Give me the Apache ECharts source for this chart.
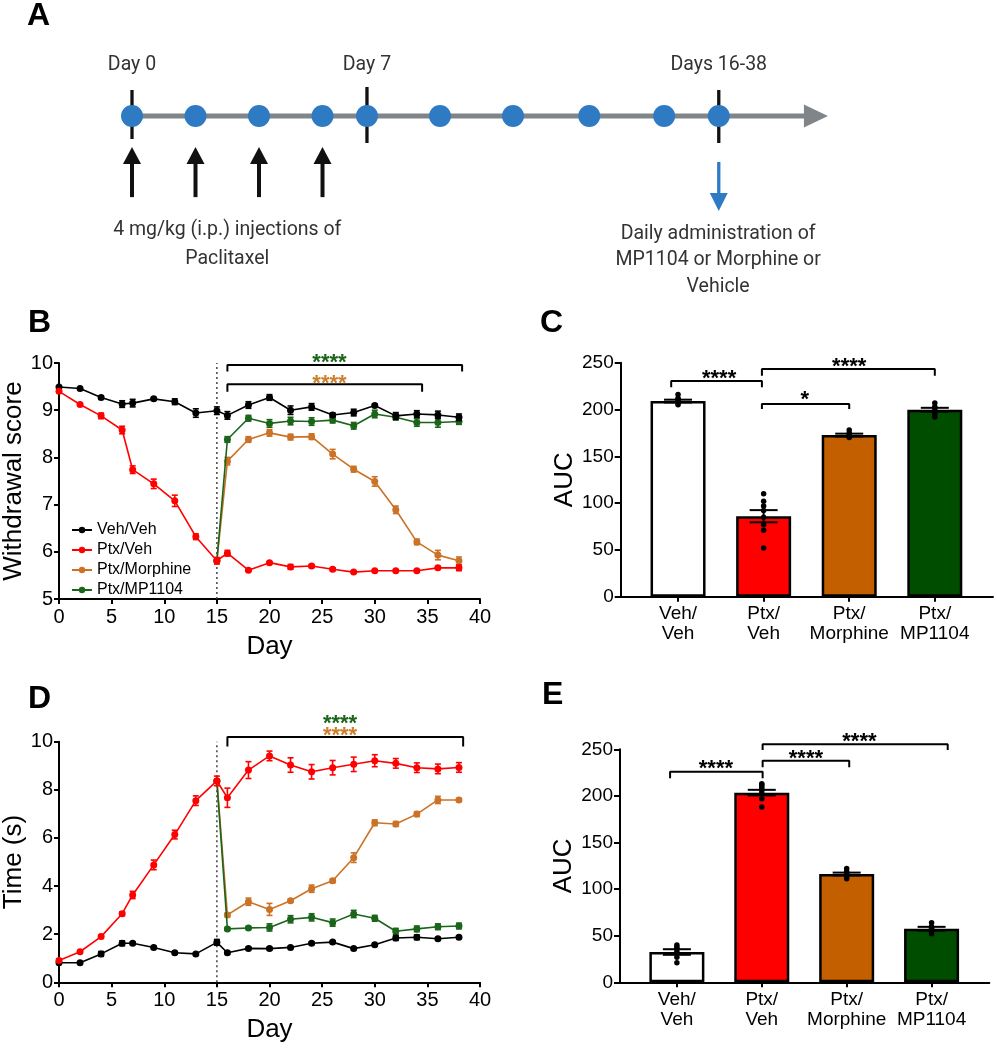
<!DOCTYPE html>
<html><head><meta charset="utf-8">
<script src="https://cdn.jsdelivr.net/npm/echarts@6/dist/echarts.min.js"></script>
<style>html,body{margin:0;padding:0;background:#fff}#c{width:997px;height:1050px}</style>
</head><body><div id="c"></div>
<script>
// ================= DATA =================
// Panel A: schematic timeline (positions along the timeline, schematic units)
const timelineDots   = [0, 1, 2, 3, 3.7, 4.85, 6.0, 7.2, 8.38, 9.24];
const injectionDots  = [0, 1, 2, 3];
const milestoneDots  = [0, 3.7, 9.24];
const milestoneLabels = ['Day 0', 'Day 7', 'Days 16-38'];
const treatmentDot   = 9.24;
const timelineEnd    = 10.96;
const injectionText  = '4 mg/kg (i.p.) injections of\nPaclitaxel';
const treatmentText  = 'Daily administration of\nMP1104 or Morphine or\nVehicle';

// Panels B & D: days
const daysAll   = [0,2,4,6,7,9,11,13,15,16,18,20,22,24,26,28,30,32,34,36,38];
const daysTreat = [15,16,18,20,22,24,26,28,30,32,34,36,38];
const groupNames = ['Veh/Veh','Ptx/Veh','Ptx/Morphine','Ptx/MP1104'];

// Panel B: withdrawal score (mean, SEM)
const vehVehB    = [9.49,9.46,9.27,9.13,9.15,9.24,9.18,8.94,8.99,8.89,9.11,9.27,9.00,9.07,8.90,8.95,9.10,8.88,8.92,8.90,8.85];
const vehVehBErr = [0.02,0.02,0.03,0.07,0.08,0.03,0.06,0.09,0.08,0.08,0.07,0.06,0.09,0.07,0.04,0.07,0.03,0.07,0.07,0.08,0.07];
const ptxVehB    = [9.40,9.12,8.88,8.58,7.74,7.44,7.08,6.32,5.81,5.97,5.61,5.77,5.68,5.70,5.63,5.57,5.60,5.60,5.60,5.66,5.66];
const ptxVehBErr = [0.02,0.02,0.06,0.08,0.08,0.10,0.12,0.06,0.07,0.06,0.02,0.02,0.05,0.03,0.03,0.02,0.02,0.02,0.02,0.03,0.06];
const ptxMorB    = [5.81,7.92,8.38,8.52,8.43,8.44,8.07,7.75,7.49,6.89,6.21,5.93,5.81];
const ptxMorBErr = [0,0.08,0.06,0.07,0.06,0.06,0.10,0.06,0.10,0.08,0.06,0.10,0.08];
const ptxMpB     = [5.81,8.38,8.83,8.72,8.77,8.76,8.79,8.67,8.92,8.85,8.74,8.74,8.76];
const ptxMpBErr  = [0,0.06,0.06,0.08,0.08,0.08,0.06,0.07,0.08,0.06,0.08,0.10,0.06];

// Panel D: time (s) (mean, SEM)
const vehVehD    = [0.81,0.81,1.18,1.62,1.62,1.45,1.23,1.18,1.66,1.23,1.41,1.40,1.45,1.62,1.67,1.40,1.56,1.84,1.87,1.81,1.87];
const vehVehDErr = [0.03,0.03,0.10,0.10,0.05,0.05,0.05,0.05,0.12,0.05,0.05,0.05,0.04,0.05,0.05,0.05,0.05,0.10,0.10,0.05,0.05];
const ptxVehD    = [0.91,1.27,1.90,2.85,3.63,4.88,6.14,7.55,8.37,7.67,8.82,9.41,9.03,8.75,8.92,9.06,9.21,9.10,8.92,8.87,8.93];
const ptxVehDErr = [0.05,0.05,0.07,0.08,0.15,0.20,0.18,0.20,0.20,0.40,0.35,0.20,0.30,0.30,0.30,0.30,0.25,0.20,0.20,0.20,0.20];
const ptxMorD    = [8.37,2.80,3.35,3.03,3.39,3.89,4.22,5.18,6.63,6.58,6.99,7.58,7.58];
const ptxMorDErr = [0,0.08,0.15,0.25,0.06,0.15,0.08,0.20,0.12,0.10,0.10,0.15,0.06];
const ptxMpD     = [8.37,2.22,2.26,2.28,2.62,2.70,2.48,2.84,2.66,2.12,2.22,2.31,2.34];
const ptxMpDErr  = [0,0.06,0.06,0.15,0.15,0.15,0.15,0.15,0.12,0.12,0.12,0.12,0.12];

// Panels C & E: AUC
const barLabels = ['Veh/\nVeh','Ptx/\nVeh','Ptx/\nMorphine','Ptx/\nMP1104'];
const aucC    = [209, 86, 172.7, 199.8];
const aucCErr = [1.5, 6.5, 1.5, 2];
const dotsC   = [[205,207,209,211,212,216],[110,102,97,92,85,77,71,52],[170,171,172,173,175,178],[192,195,198,201,203,207]];
const aucE    = [32.5, 203.5, 116.2, 57.5];
const aucEErr = [3, 3, 1.5, 2];
const dotsE   = [[21,27,33,36,38,40],[188,197,203,206,208,210,212,213],[111,113,115,117,119,122],[52,55,57,58,60,64]];

// Significance annotations
const sigB = [
  {x1:16, x2:38.3, y:9.96, drop:0.14, text:'****', tx:25.7, ty:10.13, c:'g'},
  {x1:16, x2:34.5, y:9.55, drop:0.16, text:'****', tx:25.7, ty:9.68, c:'o'}
];
const sigD = [
  {x1:16, x2:38.4, y:10.2, drop:0.4, text:'****', tx:26.7, ty:11.0, c:'g'},
  {x1:16, x2:38.4, y:10.2, drop:0.4, text:'****', tx:26.7, ty:10.47, c:'o'}
];
const sigC = [
  {x1:-0.08, x2:0.98, y:230.4, drop:6.7, text:'****', tx:0.48, ty:239.3},
  {x1:0.98, x2:2.0, y:206, drop:5.5, text:'*', tx:1.48, ty:216.6},
  {x1:0.98, x2:3.0, y:243.3, drop:7.3, text:'****', tx:2.0, ty:252}
];
const sigE = [
  {x1:-0.08, x2:1.01, y:226, drop:7, text:'****', tx:0.46, ty:235},
  {x1:1.01, x2:2.03, y:237.8, drop:7, text:'****', tx:1.52, ty:246.4},
  {x1:1.01, x2:3.19, y:255.4, drop:6.2, text:'****', tx:2.15, ty:264.3}
];

// ================= STYLE =================
const FONT = 'Liberation Sans, Arial, sans-serif';
const lineColors = ['#000000', '#FF0000', '#CB7226', '#1B651B'];
const barColors  = ['#FFFFFF', '#FF0000', '#C45F00', '#004D00'];
const starColors = {g:'#1B651B', o:'#CC7F2C'};

const chart = echarts.init(document.getElementById('c'), null, {renderer:'canvas'});

function errSeries(xi, xs, vals, errs, color, capW, lw, z) {
  return {
    type:'custom', xAxisIndex:xi, yAxisIndex:xi, silent:true, z:z||3, clip:false,
    data: xs.map((x,i)=>[x, vals[i], errs[i]]).filter(d=>d[2]>0),
    renderItem:(params, api)=>{
      const x=api.value(0), y=api.value(1), e=api.value(2);
      const lo=api.coord([x,y-e]), hi=api.coord([x,y+e]);
      const h=capW/2, st={stroke:color, lineWidth:lw};
      return {type:'group', children:[
        {type:'line', shape:{x1:lo[0],y1:lo[1],x2:hi[0],y2:hi[1]}, style:st},
        {type:'line', shape:{x1:lo[0]-h,y1:lo[1],x2:lo[0]+h,y2:lo[1]}, style:st},
        {type:'line', shape:{x1:hi[0]-h,y1:hi[1],x2:hi[0]+h,y2:hi[1]}, style:st}
      ]};
    }
  };
}
function lineSeries(xi, name, xs, vals, color, z) {
  return {type:'line', name:name, xAxisIndex:xi, yAxisIndex:xi, z:z,
    data: xs.map((x,i)=>[x, vals[i]]), symbol:'circle', symbolSize:7,
    lineStyle:{color:color, width:1.6}, itemStyle:{color:color, opacity:1}, silent:true};
}
function bracket(xi, b) {
  return {type:'line', xAxisIndex:xi, yAxisIndex:xi, silent:true, clip:false, symbol:'none', z:6,
    data:[[b.x1,b.y-b.drop],[b.x1,b.y],[b.x2,b.y],[b.x2,b.y-b.drop]],
    lineStyle:{color:'#000', width:2}};
}
function textSeries(xi, items, z) {
  return {type:'scatter', xAxisIndex:xi, yAxisIndex:xi, silent:true, clip:false, z:z||7,
    symbolSize:1, itemStyle:{color:'rgba(0,0,0,0)', opacity:1},
    data: items.map(it=>({value:[it.x,it.y], label:Object.assign({show:true, position:'inside', formatter:it.text, opacity:1}, it.style)}))};
}
function starItems(list, fs) {
  return list.map(b=>({x:b.tx, y:b.ty, text:b.text,
    style:{color: b.c ? starColors[b.c] : '#000', fontSize:fs, fontWeight:'bold', fontFamily:FONT, offset:[0,6]}}));
}
function dotSeries(xi, arrays, size, color, symbol, z) {
  return {type:'scatter', xAxisIndex:xi, yAxisIndex:xi, silent:true, clip:false, z:z||5, symbol:symbol||'circle',
    symbolSize:size, itemStyle:{color:color, opacity:1}, data: arrays};
}

const axisLineStyle = {show:true, onZero:false, lineStyle:{color:'#000', width:2}};
const tickStyle = {show:true, inside:false, length:5, lineStyle:{color:'#000', width:2}};

function lineXAxis(gi) {
  return {type:'value', gridIndex:gi, min:0, max:40, interval:5, axisLine:axisLineStyle, axisTick:tickStyle,
    axisLabel:{fontSize:20, color:'#000', margin:8, fontFamily:FONT}, splitLine:{show:false},
    name:'Day', nameLocation:'middle', nameGap:35, nameTextStyle:{fontSize:26, color:'#000', fontFamily:FONT}};
}
function lineYAxis(gi, min, max, interval, name, gap) {
  return {type:'value', gridIndex:gi, min:min, max:max, interval:interval, axisLine:axisLineStyle, axisTick:tickStyle,
    axisLabel:{fontSize:20, color:'#000', margin:6, fontFamily:FONT}, splitLine:{show:false},
    name:name, nameLocation:'middle', nameRotate:90, nameGap:gap, nameTextStyle:{fontSize:26, color:'#000', fontFamily:FONT}};
}
function barXAxis(gi) {
  return {type:'value', gridIndex:gi, min:-0.67, max:3.68, axisLine:axisLineStyle,
    axisTick:Object.assign({}, tickStyle, {customValues:[0,1,2,3]}),
    axisLabel:{customValues:[0,1,2,3], formatter:(v)=>barLabels[Math.round(v)], fontSize:19, lineHeight:20, color:'#000', margin:7, fontFamily:FONT},
    splitLine:{show:false}};
}
function barYAxis(gi, gap) {
  return {type:'value', gridIndex:gi, min:0, max:250, interval:50, axisLine:axisLineStyle,
    axisTick:Object.assign({}, tickStyle, {length:6}),
    axisLabel:{fontSize:19, color:'#000', margin:7, fontFamily:FONT}, splitLine:{show:false},
    name:'AUC', nameLocation:'middle', nameRotate:90, nameGap:gap, nameTextStyle:{fontSize:26, color:'#000', fontFamily:FONT}};
}

const series = [];
// ---------- Panel A ----------
const gray = '#808589', blue = '#2E7BC4';
series.push({type:'line', xAxisIndex:0, yAxisIndex:0, silent:true, symbol:'none', z:2,
  data:[[0,0],[timelineEnd-0.3,0]], lineStyle:{color:gray, width:5}});
series.push({type:'scatter', xAxisIndex:0, yAxisIndex:0, silent:true, z:3, symbol:'triangle',
  symbolSize:[23,24], symbolRotate:-90, itemStyle:{color:gray, opacity:1}, data:[[timelineEnd-0.19,0]]});
milestoneDots.forEach((m,i)=>{
  series.push({type:'line', xAxisIndex:0, yAxisIndex:0, silent:true, symbol:'none', z:2,
    data:[[m, i===1?1.12:1.0],[m, i===0?-0.88:-1.04]], lineStyle:{color:'#111', width:3.3}});
});
series.push(dotSeries(0, timelineDots.map(d=>[d,0]), 22, blue, 'circle', 4));
injectionDots.forEach(d=>{
  series.push({type:'line', xAxisIndex:0, yAxisIndex:0, silent:true, symbol:'none', z:2,
    data:[[d,-3.12],[d,-1.6]], lineStyle:{color:'#111', width:4}});
});
series.push({type:'scatter', xAxisIndex:0, yAxisIndex:0, silent:true, z:3, symbol:'triangle',
  symbolSize:[18,17], itemStyle:{color:'#111', opacity:1}, data: injectionDots.map(d=>[d,-1.52])});
series.push({type:'line', xAxisIndex:0, yAxisIndex:0, silent:true, symbol:'none', z:2,
  data:[[treatmentDot,-1.77],[treatmentDot,-3.2]], lineStyle:{color:blue, width:3.3}});
series.push({type:'scatter', xAxisIndex:0, yAxisIndex:0, silent:true, z:3, symbol:'triangle',
  symbolSize:[18,18], symbolRotate:180, itemStyle:{color:blue, opacity:1}, data:[[treatmentDot,-3.31]]});
const aText = {fontFamily:'Roboto', fontSize:19.5, color:'#333333'};
series.push(textSeries(0, [
  ...milestoneDots.map((m,i)=>({x:m, y:1.95, text:milestoneLabels[i], style:aText})),
  {x:1.5, y:-4.93, text:injectionText, style:Object.assign({lineHeight:29, align:'center'}, aText)},
  {x:treatmentDot-0.01, y:-5.56, text:treatmentText, style:Object.assign({lineHeight:26.5, align:'center'}, aText)}
]));

// ---------- Panel B ----------
series.push({type:'line', xAxisIndex:1, yAxisIndex:1, silent:true, symbol:'none', z:1,
  data:[[15,5],[15,10]], lineStyle:{color:'#444', width:1.5, type:[2,3]}});
series.push(lineSeries(1, groupNames[2], daysTreat, ptxMorB, lineColors[2], 2));
series.push(errSeries(1, daysTreat, ptxMorB, ptxMorBErr, lineColors[2], 6, 1.6, 2));
series.push(lineSeries(1, groupNames[3], daysTreat, ptxMpB, lineColors[3], 3));
series.push(errSeries(1, daysTreat, ptxMpB, ptxMpBErr, lineColors[3], 6, 1.6, 3));
series.push(lineSeries(1, groupNames[0], daysAll, vehVehB, lineColors[0], 4));
series.push(errSeries(1, daysAll, vehVehB, vehVehBErr, lineColors[0], 6, 1.6, 4));
series.push(lineSeries(1, groupNames[1], daysAll, ptxVehB, lineColors[1], 5));
series.push(errSeries(1, daysAll, ptxVehB, ptxVehBErr, lineColors[1], 6, 1.6, 5));
sigB.forEach(b=>series.push(bracket(1,b)));
series.push(textSeries(1, starItems(sigB, 22)));

// ---------- Panel C ----------
series.push({type:'bar', xAxisIndex:2, yAxisIndex:2, silent:true, barWidth:55, z:2,
  data: aucC.map((v,i)=>({value:[i,v], itemStyle:{color:barColors[i]}})),
  itemStyle:{borderColor:'#000', borderWidth:2.5, opacity:1}});
series.push(errSeries(2, [0,1,2,3], aucC, aucCErr, '#000', 28, 2, 4));
series.push(dotSeries(2, dotsC.flatMap((arr,i)=>arr.map(v=>[i,v])), 5.5, '#000', 'circle', 5));
sigC.forEach(b=>series.push(bracket(2,b)));
series.push(textSeries(2, starItems(sigC, 22)));

// ---------- Panel D ----------
series.push({type:'line', xAxisIndex:3, yAxisIndex:3, silent:true, symbol:'none', z:1,
  data:[[15,0],[15,10]], lineStyle:{color:'#444', width:1.5, type:[2,3]}});
series.push(lineSeries(3, groupNames[2], daysTreat, ptxMorD, lineColors[2], 2));
series.push(errSeries(3, daysTreat, ptxMorD, ptxMorDErr, lineColors[2], 6, 1.6, 2));
series.push(lineSeries(3, groupNames[3], daysTreat, ptxMpD, lineColors[3], 3));
series.push(errSeries(3, daysTreat, ptxMpD, ptxMpDErr, lineColors[3], 6, 1.6, 3));
series.push(lineSeries(3, groupNames[0], daysAll, vehVehD, lineColors[0], 4));
series.push(errSeries(3, daysAll, vehVehD, vehVehDErr, lineColors[0], 6, 1.6, 4));
series.push(lineSeries(3, groupNames[1], daysAll, ptxVehD, lineColors[1], 5));
series.push(errSeries(3, daysAll, ptxVehD, ptxVehDErr, lineColors[1], 6, 1.6, 5));
series.push(bracket(3, sigD[0]));
series.push(textSeries(3, starItems(sigD, 22)));

// ---------- Panel E ----------
series.push({type:'bar', xAxisIndex:4, yAxisIndex:4, silent:true, barWidth:55, z:2,
  data: aucE.map((v,i)=>({value:[i,v], itemStyle:{color:barColors[i]}})),
  itemStyle:{borderColor:'#000', borderWidth:2.5, opacity:1}});
series.push(errSeries(4, [0,1,2,3], aucE, aucEErr, '#000', 28, 2, 4));
series.push(dotSeries(4, dotsE.flatMap((arr,i)=>arr.map(v=>[i,v])), 5.5, '#000', 'circle', 5));
sigE.forEach(b=>series.push(bracket(4,b)));
series.push(textSeries(4, starItems(sigE, 22)));

const letter = (t, left, top)=>({text:t, left:left, top:top, padding:0,
  textStyle:{fontSize:32, fontWeight:'bold', color:'#000', fontFamily:FONT}});

const option = {
  animation:false,
  backgroundColor:'#fff',
  textStyle:{fontFamily:FONT},
  title:[letter('A',27,0), letter('B',28,307), letter('C',540,307), letter('D',28,683), letter('E',542,679)],
  legend:{data:groupNames, orient:'vertical', left:66, top:517, itemWidth:20, itemHeight:8, itemGap:4,
    textStyle:{fontSize:16, color:'#000', fontFamily:FONT}, selectedMode:false},
  grid:[
    {left:132, top:12, width:696, height:286, containLabel:false, outerBoundsMode:'none'},
    {left:59, top:363, width:421, height:236, containLabel:false, outerBoundsMode:'none'},
    {left:620.7, top:362.7, width:372.3, height:234, containLabel:false, outerBoundsMode:'none'},
    {left:59, top:741.7, width:421, height:240.6, containLabel:false, outerBoundsMode:'none'},
    {left:620, top:749.3, width:369.3, height:233, containLabel:false, outerBoundsMode:'none'}
  ],
  xAxis:[
    {type:'value', gridIndex:0, min:0, max:timelineEnd, show:false},
    lineXAxis(1), barXAxis(2), lineXAxis(3), barXAxis(4)
  ],
  yAxis:[
    {type:'value', gridIndex:0, min:-7, max:4, show:false},
    lineYAxis(1, 5, 10, 1, 'Withdrawal score', 28),
    barYAxis(2, 43),
    lineYAxis(3, 0, 10, 2, 'Time (s)', 21),
    barYAxis(4, 43)
  ],
  series: series
};
chart.setOption(option);
</script></body></html>
